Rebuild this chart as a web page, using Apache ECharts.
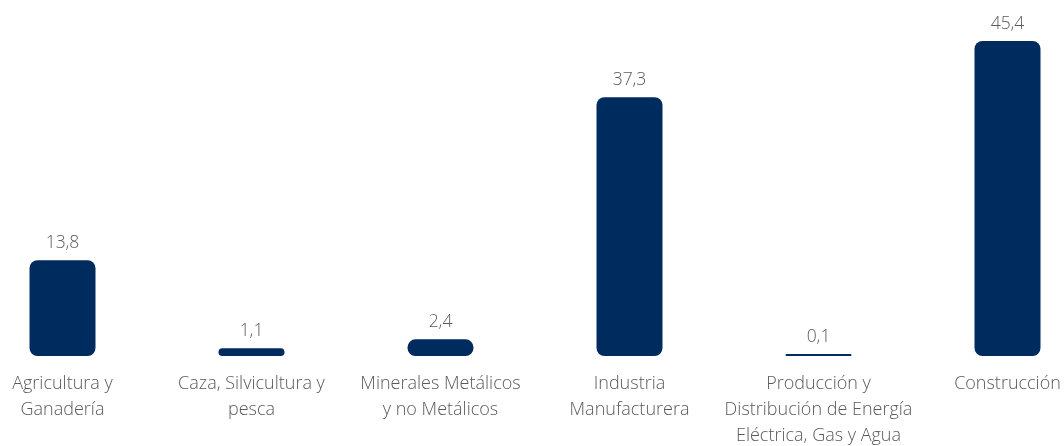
<!DOCTYPE html>
<html>
<head>
<meta charset="utf-8">
<script src="https://cdn.jsdelivr.net/npm/echarts@6/dist/echarts.min.js"></script>
<style>
  html, body { margin: 0; padding: 0; background: #ffffff; }
  #chart { width: 1064px; height: 446px; }
</style>
</head>
<body>
<div id="chart"></div>
<script>
// Sector categories (multi-line labels)
const categories = [
  "Agricultura y\nGanadería",
  "Caza, Silvicultura y\npesca",
  "Minerales Metálicos\ny no Metálicos",
  "Industria\nManufacturera",
  "Producción y\nDistribución de Energía\nEléctrica, Gas y Agua",
  "Construcción"
];
// Values per sector
const values = [13.8, 1.1, 2.4, 37.3, 0.1, 45.4];

const textColor = "#5a5a5a";
const barColor = "#002b5e";
const fontFamily = "'Open Sans', 'Liberation Sans', sans-serif";

const chart = echarts.init(document.getElementById("chart"), null, { renderer: "canvas" });
chart.setOption({
  animation: false,
  grid: { left: -32, right: -38, top: 9, bottom: 90, containLabel: false, outerBoundsMode: "none" },
  xAxis: {
    type: "category",
    data: categories,
    axisLine: { show: false },
    axisTick: { show: false },
    axisLabel: {
      interval: 0,
      margin: 15,
      color: textColor,
      fontSize: 18,
      fontWeight: 300,
      fontFamily: fontFamily,
      lineHeight: 26
    }
  },
  yAxis: {
    type: "value",
    min: 0,
    max: 50,
    show: false,
    splitLine: { show: false }
  },
  series: [{
    type: "bar",
    data: values,
    barWidth: 66,
    barMinHeight: 2,
    itemStyle: { color: barColor, borderRadius: 8 },
    label: {
      show: true,
      position: "top",
      distance: 8,
      color: textColor,
      fontSize: 17.5,
      fontWeight: 300,
      fontFamily: fontFamily,
      formatter: p => String(p.value).replace(".", ",")
    }
  }]
});
</script>
</body>
</html>
